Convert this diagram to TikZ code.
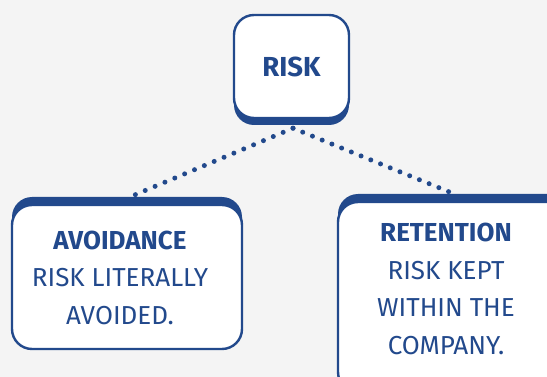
\documentclass[tikz,border=0pt]{standalone}
\usepackage{fontspec}
\setmainfont{Fira Sans}
\usetikzlibrary{positioning, shadows}
\definecolor{riskblue}{HTML}{22498C}
\definecolor{paper}{HTML}{F4F4F4}

\begin{document}
\begin{tikzpicture}[
    x=1pt, y=-1pt,
    % Stile per i riquadri
    card/.style={rectangle, rounded corners=20pt, draw=riskblue, line width=2.4pt, fill=white},
    shadowdown/.style={general shadow={fill=riskblue, shadow xshift=0pt, shadow yshift=-7pt}},
    shadowup/.style={general shadow={fill=riskblue, shadow xshift=0pt, shadow yshift=8pt}},
    cardtext/.style={align=center, text=riskblue, font=\fontsize{26}{37.5}\selectfont},
    dotline/.style={draw=riskblue, line width=5pt, line cap=round, dash pattern=on 0pt off #1},
    dotline/.default=10.7pt
]
    \fill[paper] (0,0) rectangle (547,377);
    \clip (0,0) rectangle (547,377);

    % Nodi
    \node[card, shadowdown, minimum width=115pt, minimum height=103pt] (risk) at (291.5,66.5) {};
    \node[card, shadowup, minimum width=230pt, minimum height=144pt] (avoid) at (127,277) {};
    \node[card, shadowup, minimum width=230pt, minimum height=190pt] (retain) at (453,297) {};

    % Testi
    \node[cardtext, font=\fontsize{27.5}{34}\selectfont\bfseries] (risktext) at (risk.center) {RISK};
    \node[cardtext] (avoidtext) at (120,277.5) {\textbf{AVOIDANCE}\\RISK LITERALLY\\AVOIDED.};
    \node[cardtext] (retaintext) at (446,289) {\textbf{RETENTION}\\RISK KEPT\\WITHIN THE\\COMPANY.};

    % Collegamenti
    \draw[dotline=10.69pt] ([xshift=1.5pt, yshift=-9pt]risk.south) -- ([xshift=8pt, yshift=9pt]avoid.north);
    \draw[dotline=10.5pt] ([xshift=1.5pt, yshift=-9pt]risk.south) -- ([xshift=-4pt, yshift=9pt]retain.north);
\end{tikzpicture}
\end{document}
